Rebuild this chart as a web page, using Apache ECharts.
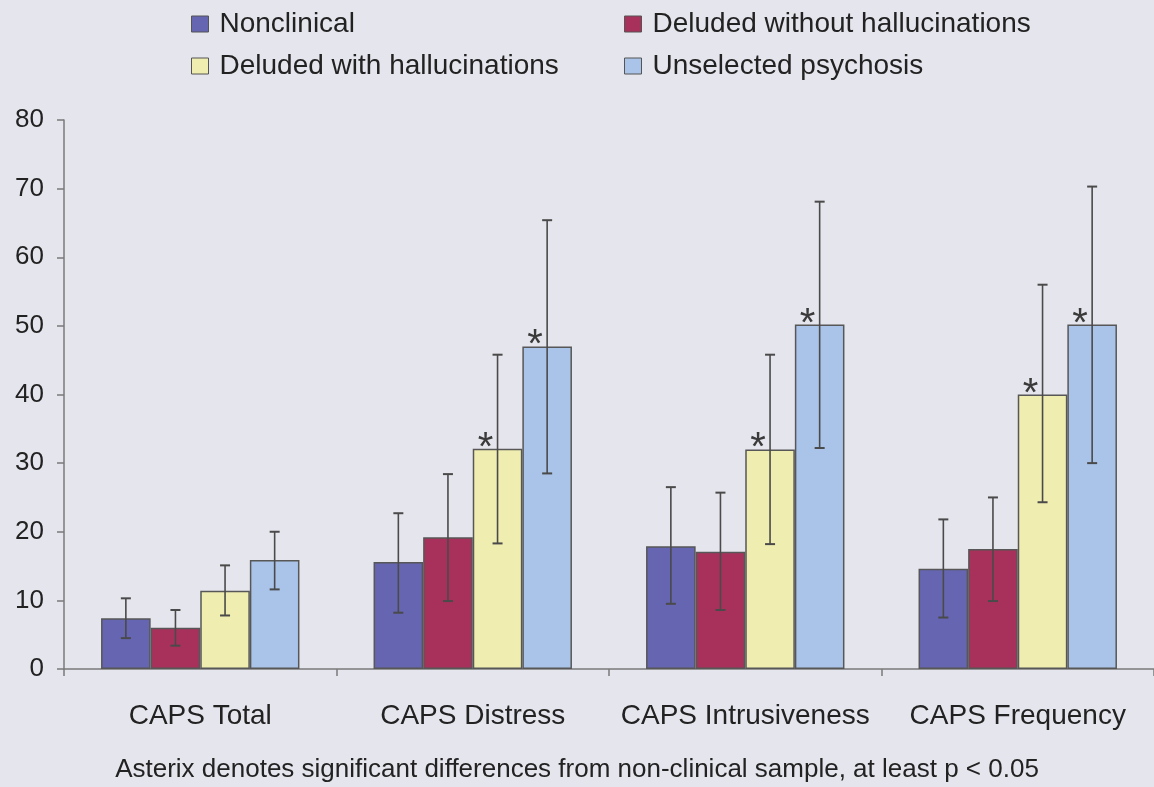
<!DOCTYPE html>
<html>
<head>
<meta charset="utf-8">
<title>CAPS scores by group</title>
<script src="https://cdn.jsdelivr.net/npm/echarts@6/dist/echarts.min.js"></script>
<style>
  html, body { margin: 0; padding: 0; background: #e5e5ed; }
  #chart { width: 1154px; height: 787px; }
</style>
</head>
<body>
<div id="chart"></div>
<script>
// Subscales on the x axis
const categories = ['CAPS Total', 'CAPS Distress', 'CAPS Intrusiveness', 'CAPS Frequency'];

// Group names
const groupNames = ['Nonclinical', 'Deluded without hallucinations', 'Deluded with hallucinations', 'Unselected psychosis'];

// Mean scores per group
const nonclinical   = [7.4, 15.6, 17.9, 14.6];
const deludedNoHall = [6.0, 19.2, 17.1, 17.5];
const deludedHall   = [11.4, 32.1, 32.0, 40.0];
const unselected    = [15.9, 47.0, 50.2, 50.2];

// Error bar ends (lower, upper)
const nonclinicalLow   = [4.5, 8.2, 9.5, 7.5];
const nonclinicalHigh  = [10.3, 22.7, 26.5, 21.8];
const deludedNoHallLow  = [3.4, 9.9, 8.6, 9.9];
const deludedNoHallHigh = [8.6, 28.4, 25.7, 25.0];
const deludedHallLow   = [7.8, 18.3, 18.2, 24.3];
const deludedHallHigh  = [15.1, 45.8, 45.8, 56.0];
const unselectedLow    = [11.6, 28.5, 32.2, 30.0];
const unselectedHigh   = [20.0, 65.4, 68.1, 70.3];

// Significant difference from the nonclinical sample (asterisk)
const sigDeludedHall = [false, true, true, true];
const sigUnselected  = [false, true, true, true];

// Y axis
const yMin = 0, yMax = 80, yStep = 10;

const footnote = 'Asterix denotes significant differences from non-clinical sample, at least p < 0.05';

const colors = ['#6565b2', '#a8315b', '#efedb0', '#a9c4e8'];
const FONT = '"Liberation Sans", Arial, Helvetica, sans-serif';
const BAR_W = 49.6;

const values = [nonclinical, deludedNoHall, deludedHall, unselected];
const lows   = [nonclinicalLow, deludedNoHallLow, deludedHallLow, unselectedLow];
const highs  = [nonclinicalHigh, deludedNoHallHigh, deludedHallHigh, unselectedHigh];
const sigs   = [null, null, sigDeludedHall, sigUnselected];

const chart = echarts.init(document.getElementById('chart'));

const series = [];
values.forEach((vals, g) => {
  const sig = sigs[g];
  series.push({
    name: groupNames[g],
    type: 'bar',
    data: vals,
    barWidth: BAR_W,
    barGap: '0%',
    itemStyle: { color: colors[g], borderColor: '#575757', borderWidth: 1.5 },
    label: {
      show: !!sig,
      position: 'top',
      distance: 0,
      offset: [-12, 20],
      fontFamily: FONT,
      fontSize: 40,
      color: '#3a3a3a',
      formatter: p => (sig && sig[p.dataIndex]) ? '*' : ''
    },
    z: 2
  });
});

// Error bars, one custom series per group so they sit on their bar
values.forEach((vals, g) => {
  series.push({
    name: groupNames[g] + ' error',
    type: 'custom',
    data: categories.map((c, i) => [i, lows[g][i], highs[g][i]]),
    renderItem: (params, api) => {
      const i = api.value(0);
      const lo = api.coord([i, api.value(1)]);
      const hi = api.coord([i, api.value(2)]);
      const x = lo[0] + (g - 1.5) * BAR_W;
      const cap = 5;
      const capStyle = { stroke: '#4a4a4a', lineWidth: 2 };
      return {
        type: 'group',
        children: [
          { type: 'line', shape: { x1: x, y1: lo[1], x2: x, y2: hi[1] }, style: { stroke: '#4a4a4a', lineWidth: 1.6 } },
          { type: 'line', shape: { x1: x - cap, y1: hi[1], x2: x + cap, y2: hi[1] }, style: capStyle },
          { type: 'line', shape: { x1: x - cap, y1: lo[1], x2: x + cap, y2: lo[1] }, style: capStyle }
        ]
      };
    },
    z: 5,
    silent: true
  });
});

const legendBase = {
  orient: 'vertical',
  top: 4,
  itemWidth: 17,
  itemHeight: 16,
  itemGap: 12,
  icon: 'rect',
  textStyle: { fontFamily: FONT, fontSize: 28, color: '#222', lineHeight: 30, padding: [0, 0, 0, 6] },
  itemStyle: { borderColor: '#555', borderWidth: 1 }
};

chart.setOption({
  backgroundColor: '#e5e5ed',
  animation: false,
  textStyle: { fontFamily: FONT },
  color: colors,
  legend: [
    Object.assign({}, legendBase, { left: 186, data: [groupNames[0], groupNames[2]] }),
    Object.assign({}, legendBase, { left: 619, data: [groupNames[1], groupNames[3]] })
  ],
  grid: { left: 64, right: -6, top: 120, bottom: 118, containLabel: false },
  xAxis: {
    type: 'category',
    data: categories,
    axisLine: { show: true, lineStyle: { color: '#7a7a7a', width: 1.5 } },
    axisTick: { show: true, interval: 0, length: 7, lineStyle: { color: '#7a7a7a', width: 1.5 } },
    axisLabel: { interval: 0, fontFamily: FONT, fontSize: 28, color: '#222', margin: 33 }
  },
  yAxis: {
    type: 'value',
    min: yMin,
    max: yMax,
    interval: yStep,
    axisLine: { show: true, lineStyle: { color: '#7a7a7a', width: 1.5 } },
    axisTick: { show: true, length: 7, lineStyle: { color: '#7a7a7a', width: 1.5 } },
    splitLine: { show: false },
    axisLabel: { fontFamily: FONT, fontSize: 26, color: '#222', margin: 20 }
  },
  graphic: [{
    type: 'text',
    left: 'center',
    top: 757,
    style: { text: footnote, fontFamily: FONT, fontSize: 26, fill: '#222' }
  }],
  series: series
});
</script>
</body>
</html>
